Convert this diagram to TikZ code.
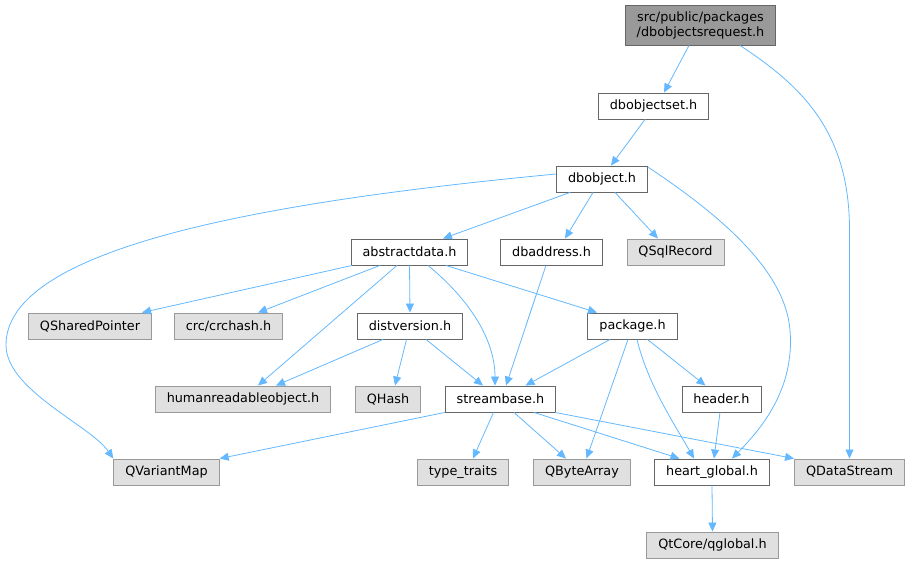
\documentclass[tikz,border=0pt]{standalone}
\usepackage{fontspec}
\setmainfont{DejaVu Sans}
\usetikzlibrary{arrows.meta}

\definecolor{edgeblue}{HTML}{63B8FF}
\definecolor{boxline}{HTML}{666666}
\definecolor{extline}{HTML}{999999}
\definecolor{extfill}{HTML}{E0E0E0}
\definecolor{rootfill}{HTML}{999999}

\begin{document}
\begin{tikzpicture}[x=1pt, y=-1pt,
    file/.style={draw=boxline, fill=white, line width=0.9pt, minimum height=26pt,
      inner xsep=11.5pt, inner ysep=0pt, font=\fontsize{12.8}{15}\selectfont},
    ext/.style={file, draw=extline, fill=extfill},
    top/.style={file, fill=rootfill, align=center, minimum height=40pt},
    dep/.style={draw=edgeblue, line width=0.8pt, -{Triangle[length=9pt, width=8pt]}}]
    \useasboundingbox (0,0) rectangle (911,564);

    \node[top] (req) at (700.5,25) {src/public/packages\\/dbobjectsrequest.h};
    \node[file] (objset) at (653.5,106) {dbobjectset.h};
    \node[file] (obj) at (602,179) {dbobject.h};

    \node[file] (absdata) at (409.5,252) {abstractdata.h};
    \node[file] (addr) at (551.5,252) {dbaddress.h};
    \node[ext] (sqlrec) at (675.5,252) {QSqlRecord};

    \node[ext] (shptr) at (90,326) {QSharedPointer};
    \node[ext] (crc) at (228.5,326) {crc/crchash.h};
    \node[file] (distver) at (410,326) {distversion.h};
    \node[file] (pkg) at (632.5,326) {package.h};

    \node[ext] (hro) at (243,399) {humanreadableobject.h};
    \node[ext] (qhash) at (388,399) {QHash};
    \node[file] (sbase) at (500.5,399) {streambase.h};
    \node[file] (hdr) at (721.5,399) {header.h};

    \node[ext] (qvmap) at (166.5,472) {QVariantMap};
    \node[ext] (ttraits) at (463,472) {type\_traits};
    \node[ext] (qba) at (582,472) {QByteArray};
    \node[file] (hglobal) at (712,472) {heart\_global.h};
    \node[ext] (qds) at (849.5,472) {QDataStream};

    \node[ext] (qglobal) at (712.5,545) {QtCore/qglobal.h};

    % top part
    \draw[dep] ([xshift=-11.5]req.south) -- ([xshift=10.5]objset.north);
    \draw[dep] ([xshift=39.5]req.south) .. controls (800,85) and (849.5,130) .. (849.5,230) -- (qds.north);
    \draw[dep] ([xshift=-8.5]objset.south) -- ([xshift=9]obj.north);
    \draw[dep] ([xshift=-32]obj.south) -- ([xshift=33.5]absdata.north);
    \draw[dep] ([xshift=-9]obj.south) -- ([xshift=13.5]addr.north);
    \draw[dep] ([xshift=13]obj.south) -- ([xshift=-17.5]sqlrec.north);
    \draw[dep] ([yshift=5]obj.west) .. controls (250,203) and (6,250) .. (6,345)
      .. controls (6,390) and (90,425) .. (qvmap.north west);
    \draw[dep] ([yshift=12]obj.east) .. controls (720,215) and (785,270) .. (790,330)
      .. controls (795,390) and (760,430) .. ([xshift=20]hglobal.north);

    % abstractdata.h
    \draw[dep] ([xshift=-57.5]absdata.south) -- ([xshift=52]shptr.north);
    \draw[dep] ([xshift=-29.5]absdata.south) -- ([xshift=29.5]crc.north);
    \draw[dep] ([xshift=-12.5]absdata.south) -- ([xshift=15]hro.north);
    \draw[dep] (absdata.south) -- (distver.north);
    \draw[dep] ([xshift=18.5]absdata.south) .. controls (470,300) and (495,340) .. ([xshift=-5.5]sbase.north);
    \draw[dep] ([xshift=36.5]absdata.south) -- ([xshift=-35.5]pkg.north);
    \draw[dep] ([xshift=-5.5]addr.south) -- ([xshift=5.5]sbase.north);

    % distversion.h and package.h
    \draw[dep] ([xshift=-27]distver.south) -- ([xshift=33]hro.north);
    \draw[dep] ([xshift=-3.5]distver.south) -- ([xshift=7]qhash.north);
    \draw[dep] ([xshift=16]distver.south) -- ([xshift=-17.5]sbase.north);
    \draw[dep] ([xshift=-22.5]pkg.south) -- ([xshift=25]sbase.north);
    \draw[dep] ([xshift=-4.5]pkg.south) -- ([xshift=4.5]qba.north);
    \draw[dep] ([xshift=4.5]pkg.south) .. controls (648,385) and (675,425) .. ([xshift=-18]hglobal.north);
    \draw[dep] ([xshift=15]pkg.south) -- ([xshift=-16]hdr.north);

    % streambase.h
    \draw[dep] (sbase.south west) -- (qvmap.north east);
    \draw[dep] ([xshift=-7]sbase.south) -- ([xshift=10]ttraits.north);
    \draw[dep] ([xshift=13.5]sbase.south) -- ([xshift=-16]qba.north);
    \draw[dep] ([xshift=33.5]sbase.south) -- ([xshift=-32.5]hglobal.north);
    \draw[dep] ([xshift=-1]sbase.south east) -- (qds.north west);
    \draw[dep] ([xshift=-1.5]hdr.south) -- ([xshift=2]hglobal.north);
    \draw[dep] (hglobal.south) -- (qglobal.north);
  \end{tikzpicture}
\end{document}
